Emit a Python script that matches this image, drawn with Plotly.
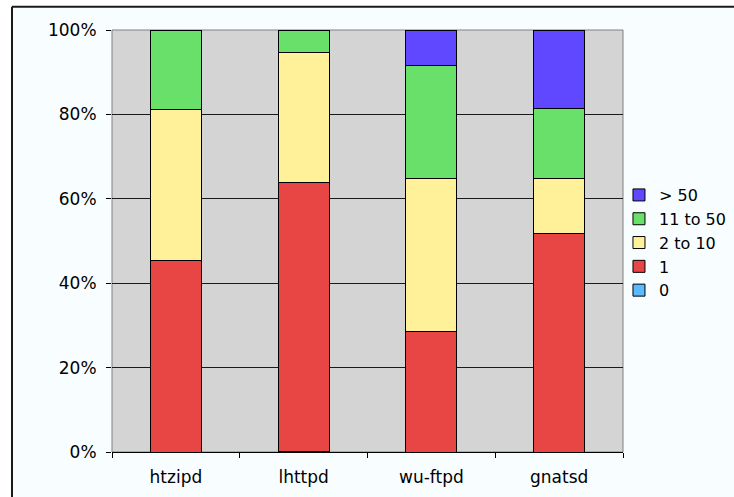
import plotly.graph_objects as go

# Servers and share of sessions per bucket (percent of total)
servers = ["htzipd", "lhttpd", "wu-ftpd", "gnatsd"]
share_0 = [0.0, 0.2, 0.0, 0.0]
share_1 = [45.3, 63.7, 28.5, 51.8]
share_2_10 = [35.8, 30.7, 36.4, 12.9]
share_11_50 = [18.9, 5.4, 26.6, 16.8]
share_gt50 = [0.0, 0.0, 8.5, 18.5]

series_names = ["0", "1", "2 to 10", "11 to 50", "> 50"]
series_values = [share_0, share_1, share_2_10, share_11_50, share_gt50]
series_colors = ["#5ABAFF", "#E84644", "#FFF09A", "#68E06A", "#5F48FF"]

y_ticks = [0, 20, 40, 60, 80, 100]

font_family = "DejaVu Sans, Verdana, sans-serif"

fig = go.Figure()
for name, vals, color in zip(series_names, series_values, series_colors):
    fig.add_trace(go.Bar(
        x=servers, y=vals, name=name,
        marker=dict(color=color, line=dict(color="#000000", width=1)),
    ))

# frame edges of the chart area (paper coordinates)
frame_left = -0.1957
frame_top = 1.0552

fig.update_layout(
    width=734, height=497,
    barmode="stack",
    bargap=0.6,
    paper_bgcolor="#FFFFFF",
    plot_bgcolor="#D4D4D4",
    margin=dict(l=112, r=111, t=30, b=45, autoexpand=False),
    font=dict(family=font_family, size=17, color="#000000"),
    showlegend=True,
    legend=dict(
        traceorder="reversed",
        xref="container", yref="container",
        x=0.8433, xanchor="left",
        y=0.512, yanchor="middle",
        bgcolor="rgba(0,0,0,0)",
        font=dict(family=font_family, size=16, color="#000000"),
        itemclick=False,
    ),
    xaxis=dict(
        type="category",
        automargin=False,
        tickson="boundaries",
        ticks="outside", ticklen=5, tickcolor="#000000",
        ticklabelstandoff=10,
        showline=True, linecolor="#000000", linewidth=1,
        showgrid=False,
        tickfont=dict(size=17),
    ),
    yaxis=dict(
        range=[0, 100],
        automargin=False,
        tickvals=y_ticks,
        ticktext=[f"{v}%" for v in y_ticks],
        ticks="outside", ticklen=5, tickcolor="#000000",
        ticklabelstandoff=6,
        showline=False,
        showgrid=True, gridcolor="#1A1A1A", gridwidth=1,
        zeroline=False,
        tickfont=dict(size=17),
    ),
    shapes=[
        # chart area fill
        dict(type="rect", xref="paper", yref="paper",
             x0=frame_left, x1=2.0, y0=-1.0, y1=frame_top,
             fillcolor="#F8FEFF", line=dict(width=0), layer="below"),
        # plot area fill
        dict(type="rect", xref="paper", yref="paper",
             x0=0, x1=1, y0=0, y1=1,
             fillcolor="#D4D4D4", line=dict(color="#808080", width=1),
             layer="below"),
        # chart area frame: top and left edges
        dict(type="line", xref="paper", yref="paper",
             x0=frame_left, x1=2.0, y0=frame_top, y1=frame_top,
             line=dict(color="#1A1A1A", width=2), layer="below"),
        dict(type="line", xref="paper", yref="paper",
             x0=frame_left, x1=frame_left, y0=-1.0, y1=frame_top,
             line=dict(color="#1A1A1A", width=2), layer="below"),
    ],
)

fig.write_html("out.html")
